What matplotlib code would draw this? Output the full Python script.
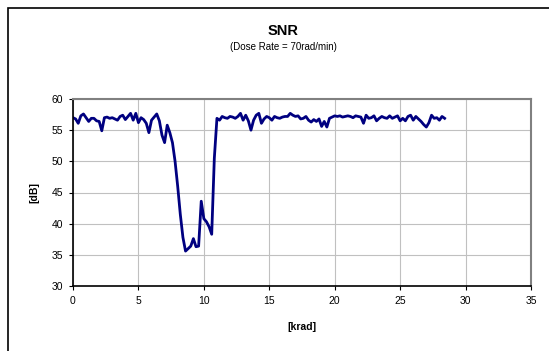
import numpy as np
import matplotlib
matplotlib.use("Agg")
from matplotlib import pyplot as plt
from matplotlib.patches import Rectangle

plt.rcParams['font.family'] = ['Liberation Sans', 'DejaVu Sans']

# SNR readings, one every 0.2 krad of accumulated dose
step = 0.2
snr = [
    57.0, 56.8, 56.1, 57.3, 57.6, 57.0, 56.4, 56.9, 56.9, 56.5,
    56.4, 54.9, 57.0, 57.1, 56.9, 57.0, 56.8, 56.6, 57.2, 57.4,
    56.7, 57.2, 57.7, 56.6, 57.7, 56.2, 57.0, 56.7, 56.1, 54.6,
    56.6, 57.1, 57.6, 56.5, 54.2, 53.0, 55.8, 54.6, 53.0, 50.0,
    46.0, 41.5, 37.8, 35.6, 36.0, 36.4, 37.6, 36.3, 36.4, 43.6,
    40.8, 40.3, 39.5, 38.3, 50.5,
    56.9, 56.6, 57.2, 57.0, 56.9, 57.2, 57.1, 56.9, 57.2, 57.7,
    56.6, 57.4, 56.5, 55.0, 56.6, 57.4, 57.7, 56.1, 56.8, 57.2,
    57.0, 56.6, 57.2, 57.0, 56.9, 57.1, 57.2, 57.2, 57.7, 57.4,
    57.2, 57.3, 56.8, 56.9, 57.2, 56.6, 56.3, 56.7, 56.4, 56.8,
    55.6, 56.4, 55.5, 56.9, 57.1, 57.3, 57.2, 57.3, 57.1, 57.2,
    57.3, 57.2, 57.0, 57.3, 57.2, 57.1, 56.1, 57.4, 56.9, 57.0,
    57.3, 56.5, 56.9, 57.2, 57.0, 56.9, 57.3, 56.9, 57.1, 57.3,
    56.5, 56.9, 56.5, 57.2, 57.4, 56.6, 57.2, 56.8, 56.4, 55.9,
    55.5, 56.2, 57.4, 56.9, 57.0, 56.6, 57.2, 56.9,
]
dose = np.arange(len(snr)) * step

x_ticks = [0, 5, 10, 15, 20, 25, 30, 35]
y_ticks = [30, 35, 40, 45, 50, 55, 60]

fig = plt.figure(figsize=(5.49, 3.51), dpi=100)
ax = fig.add_axes([73/549, 1 - 286/351, 458/549, 187/351])

ax.plot(dose, snr, color='#000080', lw=2.0, solid_joinstyle='round')

ax.set_xlim(0, 35)
ax.set_ylim(30, 60)
ax.set_xticks(x_ticks)
ax.set_yticks(y_ticks)
ax.grid(True, color='#c0c0c0', lw=0.8)
ax.set_axisbelow(True)

for side in ['top', 'right']:
    ax.spines[side].set_color('#808080')
    ax.spines[side].set_linewidth(1.5)
for side in ['left', 'bottom']:
    ax.spines[side].set_color('black')
    ax.spines[side].set_linewidth(1.2)
ax.tick_params(direction='out', length=3, width=0.8, labelsize=7.5, pad=4)

ax.set_xlabel('[krad]', fontsize=7.5, fontweight='bold', labelpad=12)
ax.set_ylabel('[dB]', fontsize=7.5, fontweight='bold', labelpad=9)

fig.text(283/549, 1 - 31/351, 'SNR', ha='center', va='center',
         fontsize=10.5, fontweight='bold')
fig.text(283/549, 1 - 47/351, '(Dose Rate = 70rad/min)', ha='center',
         va='center', fontsize=7)

# outer chart frame
fig.patches.append(Rectangle((8/549, -0.1), 1.2, 1 - 8/351 + 0.1,
                             transform=fig.transFigure, fill=False,
                             edgecolor='black', lw=1.2))

fig.savefig('out.png', dpi=100)
